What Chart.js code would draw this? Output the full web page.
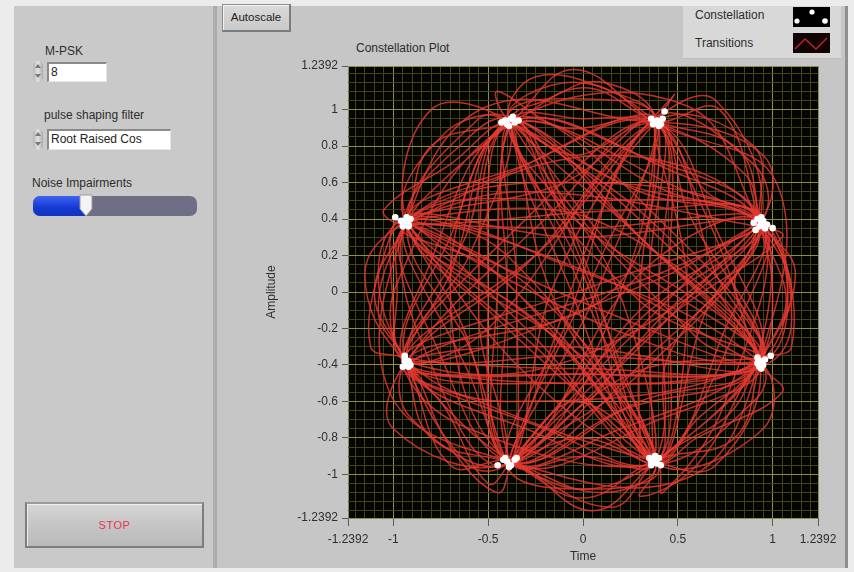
<!DOCTYPE html>
<html>
<head>
<meta charset="utf-8">
<script src="https://cdn.jsdelivr.net/npm/chart.js@4.4.1/dist/chart.umd.min.js"></script>
<style>
  body{margin:0;width:854px;height:572px;overflow:hidden;background:#ececec;position:relative;
       font-family:"Liberation Sans",Arial,sans-serif;font-size:12px;color:#2c2c2c}
  .abs{position:absolute}
  #panel{left:14px;top:6px;width:831px;height:562px;background:#c6c6c6;border-right:3px solid #8e8e8e}
  #leftpane{left:14px;top:6px;width:199px;height:562px;background:#c9c9c9;border-right:4px solid #acacac}
  .lbl{white-space:nowrap;line-height:14px}
  .box{background:#fff;border-top:2px solid #8a8a8a;border-left:2px solid #8a8a8a;border-bottom:1px solid #e6e6e6;border-right:1px solid #e6e6e6;
       box-sizing:border-box;padding-left:2px;line-height:16px;font-size:12px;color:#222}
  .spin{width:10px;height:21px;border-radius:5px;background:linear-gradient(90deg,#b4b4b4,#e4e4e4,#a9a9a9)}
  .spin:before{content:"";position:absolute;left:2px;top:3px;border-left:3px solid transparent;border-right:3px solid transparent;border-bottom:4px solid #777}
  .spin:after{content:"";position:absolute;left:2px;top:13px;border-left:3px solid transparent;border-right:3px solid transparent;border-top:4px solid #777}
  #slider{left:33px;top:196px;width:164px;height:20px;border-radius:7px;background:#6e6f84;overflow:hidden}
  #sliderFill{left:0;top:0;width:52px;height:20px;background:linear-gradient(180deg,#3d63ef,#1538d2 60%,#1232c0)}
  #stop{left:25px;top:502px;width:179px;height:46px;box-sizing:border-box;border:2px solid #7d7d7d;border-top-color:#9a9a9a;
        background:linear-gradient(180deg,#d6d6d6,#c4c4c4 55%,#b9b9b9);box-shadow:inset 1px 1px 0 #ececec;
        color:#e8344f;font-size:11px;text-align:center;line-height:42px;letter-spacing:0.5px}
  #autoscale{left:222px;top:4px;width:69px;height:28px;box-sizing:border-box;border:1px solid #8c8c8c;border-right:2px solid #7b7b7b;border-bottom:2px solid #7b7b7b;
        background:linear-gradient(180deg,#dadada,#c9c9c9);box-shadow:inset 1px 1px 0 #f2f2f2;text-align:center;line-height:25px;font-size:11.5px;color:#222}
  #legend{left:683px;top:6px;width:158px;height:52px;background:#d8d8d8;border-bottom:1px solid #bdbdbd}
  #chartWrap{left:250px;top:50px;width:600px;height:520px}
</style>
</head>
<body>
<div id="panel" class="abs"></div>
<div id="leftpane" class="abs"></div>

<div class="abs lbl" style="left:45px;top:44px">M-PSK</div>
<div class="abs spin" style="left:33px;top:61px"></div>
<div class="abs box" style="left:47px;top:62px;width:60px;height:20px">8</div>

<div class="abs lbl" style="left:44px;top:108px">pulse shaping filter</div>
<div class="abs spin" style="left:33px;top:129px"></div>
<div class="abs box" style="left:47px;top:129px;width:124px;height:21px">Root Raised Cos</div>

<div class="abs lbl" style="left:32px;top:176px">Noise Impairments</div>
<div id="slider" class="abs"><div id="sliderFill" class="abs"></div></div>
<svg class="abs" style="left:78px;top:194px" width="16" height="24" viewBox="0 0 16 24">
  <path d="M2 1 H14 V15 L8 22 L2 15 Z" fill="#f4f4f4" stroke="#9a9aa8" stroke-width="1"/>
</svg>

<div id="stop" class="abs">STOP</div>

<div id="autoscale" class="abs">Autoscale</div>
<div class="abs lbl" style="left:356px;top:41px;font-size:12px">Constellation Plot</div>

<div id="legend" class="abs"></div>
<div class="abs lbl" style="left:695px;top:8px">Constellation</div>
<div class="abs lbl" style="left:695px;top:36px">Transitions</div>
<svg class="abs" style="left:793px;top:7px" width="37" height="20">
  <rect x="0" y="0" width="37" height="20" fill="#000"/>
  <circle cx="19" cy="5" r="2.6" fill="#fff"/><circle cx="4" cy="14" r="2.6" fill="#fff"/><circle cx="32" cy="14" r="2.8" fill="#fff"/>
</svg>
<svg class="abs" style="left:793px;top:33px" width="37" height="20">
  <rect x="0" y="0" width="37" height="20" fill="#120404"/>
  <polyline points="2,16 12,6 23,16 34,5" fill="none" stroke="#b8262a" stroke-width="1.4"/>
</svg>

<div id="chartWrap" class="abs"><canvas id="plot" width="600" height="520"></canvas></div>

<script>
// ---- axis tick labels ----
const axisLimit = 1.2392;
const xTickLabels = [-1.2392, -1, -0.5, 0, 0.5, 1, 1.2392];
const yTickLabels = [-1.2392, -1, -0.8, -0.6, -0.4, -0.2, 0, 0.2, 0.4, 0.6, 0.8, 1, 1.2392];
const minorStep = 0.05;

// ---- received symbols (I/Q) ----
const symbolsI = [
  0.92, 0.95, 0.97, 0.93, 0.90, 0.96, 0.91, 1.00, 0.94, 0.94,
  0.36, 0.39, 0.41, 0.37, 0.42, 0.43, 0.40, 0.38,
  -0.41, -0.38, -0.36, -0.40, -0.43, -0.34, -0.39, -0.37,
  -0.94, -0.92, -0.91, -0.95, -0.99, -0.93, -0.92, -0.96,
  -0.94, -0.93, -0.95, -0.92, -0.94, -0.92, -0.94, -0.91,
  -0.40, -0.38, -0.36, -0.42, -0.45, -0.35, -0.39, -0.41,
  0.37, 0.39, 0.36, 0.40, 0.35, 0.41, 0.38, 0.36,
  0.94, 0.92, 0.95, 0.93, 0.92, 0.99, 0.96, 0.94
];
const symbolsQ = [
  0.40, 0.39, 0.37, 0.36, 0.38, 0.35, 0.34, 0.35, 0.41, 0.38,
  0.95, 0.94, 0.92, 0.92, 0.95, 0.99, 0.91, 0.93,
  0.94, 0.95, 0.93, 0.92, 0.93, 0.94, 0.91, 0.96,
  0.39, 0.37, 0.40, 0.36, 0.41, 0.41, 0.36, 0.39,
  -0.36, -0.39, -0.41, -0.38, -0.38, -0.41, -0.35, -0.40,
  -0.93, -0.95, -0.92, -0.92, -0.95, -0.91, -0.96, -0.91,
  -0.92, -0.94, -0.95, -0.91, -0.91, -0.95, -0.90, -0.93,
  -0.38, -0.36, -0.40, -0.41, -0.39, -0.35, -0.37, -0.42
];

// ---- filtered signal trajectories between symbol instants ----
const transitionA = [[0.93,0.38],[0.35,0.05],[-0.93,-0.38],[-0.35,0.35],[0.38,0.93],[0.45,0.0],[0.38,-0.93],[-0.2,-0.35],[-0.93,0.38],[0.05,0.1],[0.93,-0.38],[0.35,0.25],[-0.38,0.93],[-0.5,0.0],[-0.38,-0.93],[0.35,-0.35],[0.93,0.38],[0.3,0.75],[-0.38,0.93],[-0.7,0.3],[-0.93,-0.38],[-0.3,-0.75],[0.38,-0.93],[0.75,-0.2],[0.93,0.38],[0.0,0.5],[-0.93,0.38],[-0.75,-0.35],[-0.38,-0.93],[0.3,-0.6],[0.93,-0.38],[0.7,0.35],[0.38,0.93],[-0.3,0.7],[-0.93,0.38],[-0.2,-0.2],[0.38,-0.93],[0.0,0.0],[-0.38,0.93],[0.2,0.2],[0.93,-0.38],[0.0,-0.45],[-0.93,-0.38],[-0.2,0.25],[0.38,0.93],[0.05,-0.05],[-0.38,-0.93],[0.3,-0.3],[0.93,0.38]];
const transitionB = [[0.94,0.37],[0.82,0.78],[0.37,0.94],[0.0,1.12],[-0.39,0.93],[-0.8,0.8],[-0.93,0.39],[-1.1,0.0],[-0.94,-0.38],[-0.8,-0.8],[-0.38,-0.94],[0.0,-1.13],[0.38,-0.92],[0.8,-0.8],[0.94,-0.38],[1.1,0.0],[0.93,0.38],[0.55,1.02],[-0.38,0.93],[-0.98,0.05],[-0.93,-0.38],[-0.15,-1.05],[0.38,-0.93],[1.05,-0.15],[0.93,0.38],[0.72,1.0],[0.39,0.93],[-0.5,1.02],[-0.93,0.38],[-1.02,-0.55],[-0.38,-0.93],[0.55,-1.02],[0.93,-0.38],[1.02,0.6],[0.38,0.93],[-0.05,1.22],[-0.38,0.93],[-0.75,0.6],[-0.93,0.38],[-1.08,-0.1],[-0.93,-0.38],[-0.7,-0.95],[-0.38,-0.93],[0.05,-1.2],[0.38,-0.93],[0.75,-0.62],[0.93,-0.38],[1.12,0.1],[0.93,0.38]];
const transitionC = [[-0.95,0.4],[-0.3,0.55],[0.92,0.36],[1.05,0.3],[0.5,-0.1],[-0.37,-0.92],[-0.5,-1.05],[-0.75,-0.6],[-0.95,-0.39],[-0.1,-0.3],[0.95,-0.4],[0.3,0.3],[-0.4,0.95],[-0.45,1.1],[-0.1,0.9],[0.39,0.94],[0.1,0.2],[-0.39,-0.94],[-0.05,-0.6],[0.39,-0.93],[0.42,-1.1],[0.75,-0.6],[0.94,0.39],[0.3,0.45],[-0.94,0.37],[-1.05,0.45],[-0.7,0.7],[-0.38,0.92],[-0.1,0.45],[0.93,-0.37],[0.4,-0.7],[-0.38,-0.93],[-0.7,0.05],[-0.38,0.94],[0.0,0.2],[0.38,-0.94],[0.55,0.0],[0.38,0.92],[0.7,0.3],[0.93,-0.39],[1.05,-0.55],[0.6,-0.8],[0.38,-0.93],[-0.3,-0.45],[-0.93,0.38]];
const transitionD = [[-0.93,-0.38],[0.0,-0.42],[0.93,-0.38],[0.05,0.4],[-0.93,0.38],[0.0,0.35],[0.93,0.38],[0.0,-0.35],[-0.93,-0.38],[-0.98,0.0],[-0.93,0.38],[-0.4,0.65],[0.38,0.93],[0.4,0.0],[0.38,-0.93],[0.0,-0.9],[-0.38,-0.93],[-0.4,0.0],[-0.38,0.93],[0.0,0.95],[0.38,0.93],[0.85,0.65],[0.93,0.38],[1.0,0.0],[0.93,-0.38],[0.6,-0.7],[0.38,-0.93],[-0.3,-0.2],[-0.93,0.38],[-0.65,-0.15],[-0.38,-0.93],[-0.35,0.05],[-0.38,0.93],[0.25,0.35],[0.93,-0.38],[0.1,-0.1],[-0.93,0.38]];
const transitionE = [[0.38,0.93],[0.48,1.08],[0.2,0.7],[-0.38,-0.93],[-0.45,-1.1],[-0.7,-0.85],[-0.93,-0.38],[-1.12,-0.3],[-1.05,0.2],[-0.93,0.38],[-0.4,0.2],[0.38,-0.93],[0.3,-1.12],[0.6,-0.95],[0.93,-0.38],[1.1,-0.3],[1.05,0.25],[0.93,0.38],[0.2,-0.3],[-0.38,-0.93],[0.1,-0.25],[0.38,0.93],[0.1,1.15],[-0.2,1.05],[-0.38,0.93],[-0.1,0.1],[0.38,-0.93],[0.65,-0.1],[0.93,0.38],[0.55,0.55],[-0.38,0.93],[-0.62,0.3],[-0.93,-0.38],[-0.55,-0.6],[0.38,-0.93],[0.7,-0.95],[0.93,-0.38],[0.5,0.2],[-0.38,0.93],[-0.8,1.0],[-0.93,0.38],[-0.5,-0.1],[0.38,-0.93]];
const transitionF = [[-0.38,-0.93],[0.0,-0.8],[0.38,-0.93],[0.1,-0.45],[-0.93,0.38],[-0.72,0.88],[-0.38,0.93],[-0.6,0.2],[-0.93,-0.38],[-0.15,-0.5],[0.93,-0.38],[0.7,0.1],[0.38,0.93],[-0.2,0.4],[-0.93,-0.38],[-1.0,-0.75],[-0.38,-0.93],[0.3,-0.1],[0.93,0.38],[0.95,0.75],[0.38,0.93],[-0.05,0.75],[-0.38,0.93],[0.0,0.1],[0.38,-0.93],[0.95,-0.75],[0.93,-0.38],[-0.1,0.15],[-0.93,0.38],[-0.6,-0.45],[-0.38,-0.93],[-0.15,0.05],[0.38,0.93],[0.7,1.05],[0.93,0.38],[0.35,-0.4],[-0.38,-0.93]];
const transitionG = [[0.93,-0.38],[0.6,-0.25],[-0.38,0.93],[-0.25,1.18],[0.15,1.1],[0.38,0.93],[0.15,0.0],[-0.93,-0.38],[-0.2,-0.75],[0.38,-0.93],[0.45,-0.35],[0.93,0.38],[0.15,0.75],[-0.93,0.38],[-1.15,0.1],[-0.93,-0.38],[-0.4,-0.6],[0.93,-0.38],[0.8,0.05],[0.93,0.38],[0.5,0.65],[-0.38,0.93],[-0.7,0.1],[-0.93,-0.38],[-0.5,-0.2],[0.38,0.93],[0.9,0.8],[0.93,0.38]];
const transitionH = [[-0.38,-0.93],[0.15,-1.18],[0.38,-0.93],[0.85,-0.55],[0.93,0.38],[0.3,0.1],[-0.38,-0.93],[-0.9,-0.7],[-0.93,-0.38],[-0.3,0.15],[0.38,0.93],[0.55,0.45],[0.93,-0.38],[0.2,-0.65],[-0.38,-0.93],[-0.6,-0.3],[-0.93,0.38],[-0.55,0.95],[-0.38,0.93],[0.3,0.55],[0.93,0.38],[1.08,-0.05],[0.93,-0.38],[0.15,-0.2],[-0.93,0.38],[-0.25,0.0],[0.38,-0.93],[0.1,-1.1],[-0.38,-0.93]];
const transitionI = [[0.95,0.36],[0.4,0.1],[-0.92,-0.4],[-0.1,-0.45],[0.92,-0.36],[0.45,0.35],[-0.37,0.95],[-0.55,-0.1],[-0.4,-0.92],[-0.6,-0.95],[-0.95,-0.36],[-1.08,0.1],[-0.95,0.4],[-0.2,0.6],[0.93,0.4],[0.85,-0.1],[0.37,-0.95],[0.3,0.0],[0.4,0.92],[0.2,1.05],[-0.4,0.95],[0.15,0.1],[0.37,-0.92],[-0.1,-0.3],[-0.92,0.4],[-0.05,0.3],[0.95,0.37],[0.3,-0.15],[-0.37,-0.95],[0.25,-0.45],[0.95,-0.36]];
const transitionJ = [[-0.37,0.92],[-0.15,-0.05],[0.4,-0.95],[0.1,-1.08],[-0.4,-0.95],[-0.1,-0.2],[0.37,0.95],[0.9,0.7],[0.95,0.4],[0.45,-0.1],[-0.4,-0.95],[-0.8,-0.4],[-0.95,0.37],[-0.6,0.85],[-0.37,0.95],[0.2,0.6],[0.95,0.4],[0.1,0.05],[-0.95,-0.36],[-0.1,-0.5],[0.95,-0.4],[1.1,-0.15],[0.95,0.36],[0.45,0.55],[-0.37,0.92],[-0.85,0.05],[-0.95,-0.4],[-0.6,-0.75],[0.37,-0.95],[0.9,-0.6],[0.95,-0.4],[0.4,0.35],[-0.4,0.95]];
const transitionK = [[0.37,-0.95],[0.35,0.1],[0.4,0.95],[-0.1,0.6],[-0.95,0.36],[-0.45,0.1],[0.37,-0.92],[-0.2,-0.15],[-0.95,0.4],[-1.0,-0.1],[-0.92,-0.36],[-0.05,-0.35],[0.95,-0.37],[0.3,-0.05],[-0.4,0.92],[-0.05,1.15],[0.4,0.92],[0.65,0.55],[0.95,0.4],[1.08,0.0],[0.92,-0.4],[0.2,-0.75],[-0.4,-0.92],[-0.45,0.05],[-0.37,0.95],[-0.1,0.4],[0.4,-0.95]];
const transitions = [transitionA, transitionB, transitionC, transitionD, transitionE, transitionF,
                     transitionG, transitionH, transitionI, transitionJ, transitionK];

// ---- styling ----
const plotBackground = '#060600';
const majorGrid = '#8e8e44';
const minorGrid = '#42421e';
const traceColor = 'rgba(232,58,50,0.8)';
const labelFont = {family: '"Liberation Sans", Arial, sans-serif', size: 12};
const textColor = '#2e2e2e';

const isLabelled = (list, v) => list.some(l => Math.abs(l - v) < 1e-6);
const fmt = v => String(Math.round(v * 10000) / 10000);
function gridTicks(list) {
  const vals = list.slice();
  const n = Math.floor(axisLimit / minorStep + 1e-9);
  for (let k = -n; k <= n; k++) {
    const v = Math.round(k * minorStep * 100) / 100;
    if (!isLabelled(list, v)) vals.push(v);
  }
  return vals.sort((a, b) => a - b).map(v => ({value: v}));
}

function axisOptions(list, title, isX) {
  return {
    type: 'linear',
    min: -axisLimit,
    max: axisLimit,
    afterBuildTicks: s => { s.ticks = gridTicks(list); },
    afterFit: s => { if (isX) s.height = 46; else s.width = 84; },
    ticks: {
      autoSkip: false, maxRotation: 0, minRotation: 0,
      padding: isX ? 6 : 4,
      color: textColor, font: labelFont,
      callback: v => isLabelled(list, v) ? fmt(v) : ''
    },
    grid: {
      color: c => isLabelled(list, c.tick.value) ? majorGrid : minorGrid,
      tickColor: c => isLabelled(list, c.tick.value) ? '#5a5a5a' : 'rgba(0,0,0,0)',
      tickLength: isX ? 8 : 6,
      lineWidth: 1
    },
    border: {display: false},
    title: {display: true, text: title, color: textColor, font: labelFont, padding: {top: 0, bottom: 0}}
  };
}

const plotBg = {
  id: 'plotBg',
  beforeDraw(chart) {
    const a = chart.chartArea, ctx = chart.ctx;
    ctx.save();
    ctx.fillStyle = plotBackground;
    ctx.fillRect(a.left, a.top, a.right - a.left, a.bottom - a.top);
    ctx.restore();
  }
};

const datasets = [{
  label: 'Constellation',
  data: symbolsI.map((x, i) => ({x, y: symbolsQ[i]})),
  pointRadius: 3.3,
  pointBackgroundColor: '#ffffff',
  pointBorderWidth: 0,
  showLine: false
}];
transitions.forEach((t, i) => datasets.push({
  label: 'Transitions ' + (i + 1),
  data: t.map(p => ({x: p[0], y: p[1]})),
  showLine: true,
  tension: 0.4,
  borderColor: traceColor,
  borderWidth: 1.5,
  pointRadius: 0
}));

new Chart(document.getElementById('plot'), {
  type: 'scatter',
  data: {datasets},
  options: {
    responsive: false,
    animation: false,
    devicePixelRatio: 1,
    layout: {padding: {left: 14, right: 32, top: 16, bottom: 6}},
    plugins: {legend: {display: false}, tooltip: {enabled: false}},
    scales: {
      x: axisOptions(xTickLabels, 'Time', true),
      y: axisOptions(yTickLabels, 'Amplitude', false)
    }
  },
  plugins: [plotBg]
});
</script>
</body>
</html>
